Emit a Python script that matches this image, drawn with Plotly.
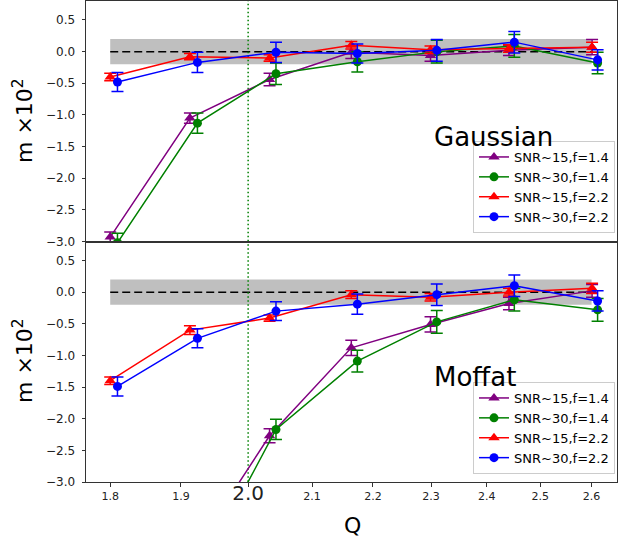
import math
import plotly.graph_objects as go
from plotly.subplots import make_subplots

# Q sampling (triangles at Q, circles slightly offset to the right)
q_tri = [1.800, 1.913, 2.033, 2.164, 2.299, 2.441, 2.601]
q_circ = [1.810, 1.924, 2.043, 2.174, 2.310, 2.451, 2.612]

series_names = ["SNR~15,f=1.4", "SNR~30,f=1.4", "SNR~15,f=2.2", "SNR~30,f=2.2"]

# Gaussian PSF: m x 10^2 and its errors
gauss_snr15_f14 = [-2.93, -1.05, -0.44, -0.01, -0.06, 0.02, 0.07]
gauss_snr15_f14_err = [0.08, 0.08, 0.10, 0.10, 0.09, 0.08, 0.12]
gauss_snr30_f14 = [-3.02, -1.13, -0.35, -0.16, 0.00, 0.09, -0.18]
gauss_snr30_f14_err = [0.15, 0.16, 0.17, 0.16, 0.18, 0.18, 0.17]
gauss_snr15_f22 = [-0.40, -0.08, -0.10, 0.10, 0.03, 0.05, 0.07]
gauss_snr15_f22_err = [0.06, 0.05, 0.05, 0.06, 0.06, 0.06, 0.08]
gauss_snr30_f22 = [-0.48, -0.17, -0.01, -0.03, 0.02, 0.15, -0.13]
gauss_snr30_f22_err = [0.15, 0.16, 0.16, 0.15, 0.17, 0.17, 0.16]

# Moffat PSF: m x 10^2 and its errors
moff_snr15_f14 = [-6.00, -4.20, -2.27, -0.88, -0.51, -0.18, 0.02]
moff_snr15_f14_err = [0.10, 0.10, 0.11, 0.12, 0.12, 0.10, 0.10]
moff_snr30_f14 = [-6.50, -4.50, -2.17, -1.09, -0.47, -0.12, -0.28]
moff_snr30_f14_err = [0.15, 0.16, 0.16, 0.17, 0.18, 0.18, 0.18]
moff_snr15_f22 = [-1.40, -0.60, -0.41, -0.04, -0.08, 0.00, 0.06]
moff_snr15_f22_err = [0.06, 0.07, 0.05, 0.06, 0.06, 0.06, 0.08]
moff_snr30_f22 = [-1.49, -0.73, -0.30, -0.19, -0.04, 0.10, -0.14]
moff_snr30_f22_err = [0.15, 0.15, 0.15, 0.16, 0.17, 0.17, 0.16]

# requirement band |m| < 0.2e-2 and critical Q
band_q = [1.8, 2.6]
band_half = 0.2
q_crit = 2.0

y_ticks = [-3.0, -2.5, -2.0, -1.5, -1.0, -0.5, 0.0, 0.5]
x_ticks = [1.8, 1.9, 2.0, 2.1, 2.2, 2.3, 2.4, 2.5, 2.6]

colors = ["#800080", "#008000", "#ff0000", "#0000ff"]
symbols = ["triangle-up", "circle", "triangle-up", "circle"]
FONT = "DejaVu Sans"

fig = make_subplots(rows=2, cols=1, shared_xaxes=True, vertical_spacing=0)

panels = [
    (1, "legend", [gauss_snr15_f14, gauss_snr30_f14, gauss_snr15_f22, gauss_snr30_f22],
     [gauss_snr15_f14_err, gauss_snr30_f14_err, gauss_snr15_f22_err, gauss_snr30_f22_err]),
    (2, "legend2", [moff_snr15_f14, moff_snr30_f14, moff_snr15_f22, moff_snr30_f22],
     [moff_snr15_f14_err, moff_snr30_f14_err, moff_snr15_f22_err, moff_snr30_f22_err]),
]

for row, leg, ys, errs in panels:
    # grey tolerance band
    fig.add_trace(go.Scatter(
        x=[band_q[0], band_q[1], band_q[1], band_q[0]],
        y=[-band_half, -band_half, band_half, band_half],
        fill="toself", fillcolor="rgba(128,128,128,0.5)", mode="none",
        showlegend=False, hoverinfo="skip"), row=row, col=1)
    # zero line
    fig.add_trace(go.Scatter(
        x=band_q, y=[0, 0], mode="lines",
        line=dict(color="black", width=1.5, dash="8px,4px"),
        showlegend=False, hoverinfo="skip"), row=row, col=1)
    # Q = 2 marker
    fig.add_trace(go.Scatter(
        x=[q_crit, q_crit], y=[-3.5, 1.0], mode="lines",
        line=dict(color="#008000", width=1.5, dash="1.5px,2.5px"),
        showlegend=False, hoverinfo="skip"), row=row, col=1)
    for i in range(4):
        tri = symbols[i] == "triangle-up"
        fig.add_trace(go.Scatter(
            x=q_tri if tri else q_circ, y=ys[i], mode="lines+markers",
            name=series_names[i], legend=leg,
            line=dict(color=colors[i], width=1.5),
            marker=dict(symbol=symbols[i], size=10 if tri else 9, color=colors[i]),
            error_y=dict(type="data", array=errs[i], visible=True,
                         color=colors[i], thickness=1.5, width=6),
            cliponaxis=True), row=row, col=1)

x_range = [math.log10(1.767), math.log10(2.651)]
tick_text = ["<span style='font-size:20px'>2.0</span>" if abs(v - 2.0) < 1e-9
             else f"{v:.1f}" for v in x_ticks]

for row in (1, 2):
    fig.update_xaxes(
        type="log", range=x_range, tickvals=x_ticks, ticktext=tick_text,
        showticklabels=(row == 2), ticks="outside" if row == 2 else "",
        ticklen=3.5, tickwidth=0.8, tickcolor="#333",
        showline=True, mirror=True, linecolor="#333", linewidth=1,
        showgrid=False, zeroline=False,
        tickfont=dict(family=FONT, size=11, color="#222"),
        row=row, col=1)
    fig.update_yaxes(
        range=[-3.0, 0.8], tickvals=y_ticks,
        ticktext=[f"{v:.1f}".replace("-", "\u2212") for v in y_ticks],
        ticks="outside", ticklen=3.5, tickwidth=0.8, tickcolor="#333",
        ticklabelstandoff=4,
        showline=True, mirror=True, linecolor="#333", linewidth=1,
        showgrid=False, zeroline=False,
        tickfont=dict(family=FONT, size=12, color="#222"),
        row=row, col=1)

W, H = 618, 539
ml, mr, mt, mb = 86, 1, 1, 57
pw, ph = W - ml - mr, H - mt - mb


def px(xp):
    return (xp - ml) / pw


def py(yp):
    return (H - mb - yp) / ph


legend_style = dict(
    xanchor="right", yanchor="bottom", bgcolor="rgba(255,255,255,0.8)",
    bordercolor="#cccccc", borderwidth=1, font=dict(family=FONT, size=13, color="black"),
    itemwidth=30, tracegroupgap=0)

annotations = [
    dict(text="Gaussian", x=px(432), y=py(137), xref="paper", yref="paper",
         xanchor="left", yanchor="middle", showarrow=False,
         font=dict(family=FONT, size=26, color="black")),
    dict(text="Moffat", x=px(432), y=py(377), xref="paper", yref="paper",
         xanchor="left", yanchor="middle", showarrow=False,
         font=dict(family=FONT, size=26, color="black")),
    dict(text="m \u00d710<sup>2</sup>", x=px(23), y=py(121), xref="paper", yref="paper",
         xanchor="center", yanchor="middle", textangle=-90, showarrow=False,
         font=dict(family=FONT, size=22, color="black")),
    dict(text="m \u00d710<sup>2</sup>", x=px(23), y=py(361), xref="paper", yref="paper",
         xanchor="center", yanchor="middle", textangle=-90, showarrow=False,
         font=dict(family=FONT, size=22, color="black")),
    dict(text="Q", x=px(352), y=py(525), xref="paper", yref="paper",
         xanchor="center", yanchor="middle", showarrow=False,
         font=dict(family=FONT, size=22, color="black")),
]

fig.update_layout(
    width=W, height=H,
    margin=dict(l=ml, r=mr, t=mt, b=mb, pad=0),
    paper_bgcolor="white", plot_bgcolor="white",
    font=dict(family=FONT),
    legend=dict(x=px(615), y=py(233), **legend_style),
    legend2=dict(x=px(615), y=py(474), **legend_style),
    annotations=annotations,
    showlegend=True,
)

fig.write_html("out.html")
